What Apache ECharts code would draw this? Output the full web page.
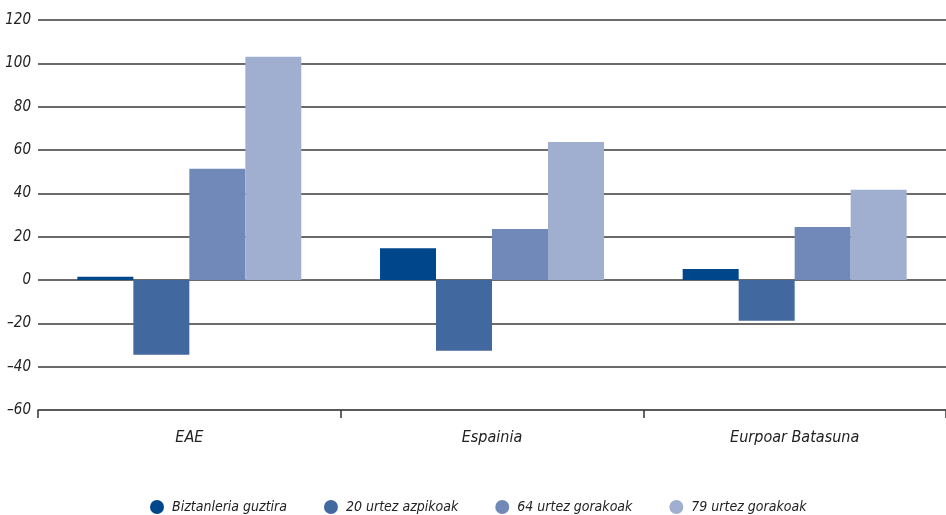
<!DOCTYPE html>
<html><head><meta charset="utf-8">
<script src="https://cdn.jsdelivr.net/npm/echarts@6/dist/echarts.min.js"></script>
<style>html,body{margin:0;padding:0;background:#fff}#c{width:946px;height:515px}</style>
</head><body><div id="c"></div>
<script>
const categories = ['EAE', 'Espainia', 'Eurpoar Batasuna'];
const seriesNames = ['Biztanleria guztira', '20 urtez azpikoak', '64 urtez gorakoak', '79 urtez gorakoak'];
const biztanleria = [1.5, 14.6, 5.1];
const azpikoak20 = [-34.5, -32.6, -18.8];
const gorakoak64 = [51.3, 23.5, 24.5];
const gorakoak79 = [103, 63.7, 41.6];
const colors = ['#00468b', '#4169a0', '#7189b8', '#a0afd0'];
const values = [biztanleria, azpikoak20, gorakoak64, gorakoak79];
const font = "'DejaVu Sans Condensed', 'Liberation Sans Narrow', sans-serif";
const chart = echarts.init(document.getElementById('c'));
chart.setOption({
  animation: false,
  grid: { left: 38, top: 20, width: 913, height: 390, containLabel: false },
  legend: {
    bottom: -4, left: 145, itemGap: 37, icon: 'circle', itemWidth: 14, itemHeight: 14,
    textStyle: { fontFamily: font, fontStyle: 'italic', fontSize: 14, color: '#222', padding: [0, 0, 0, 3] },
    data: seriesNames
  },
  xAxis: {
    type: 'category', data: categories,
    axisLine: { show: true, onZero: false, lineStyle: { color: '#555', width: 1.5 } },
    axisTick: { show: true, length: 8, lineStyle: { color: '#333', width: 1.5 } },
    axisLabel: { margin: 20, fontFamily: font, fontStyle: 'italic', fontSize: 16, color: '#222' }
  },
  yAxis: {
    type: 'value', min: -60, max: 120, interval: 20,
    axisLine: { show: false }, axisTick: { show: false },
    splitLine: { lineStyle: { color: '#3a3a3a', width: 1.5 } },
    axisLabel: { margin: 7, fontFamily: font, fontStyle: 'italic', fontSize: 15, color: '#222',
      formatter: v => String(v).replace('-', '\u2013') }
  },
  series: values.map((d, i) => ({
    name: seriesNames[i], type: 'bar', data: d, barGap: '0%', barCategoryGap: '26%',
    itemStyle: { color: colors[i] }
  }))
});
</script></body></html>
